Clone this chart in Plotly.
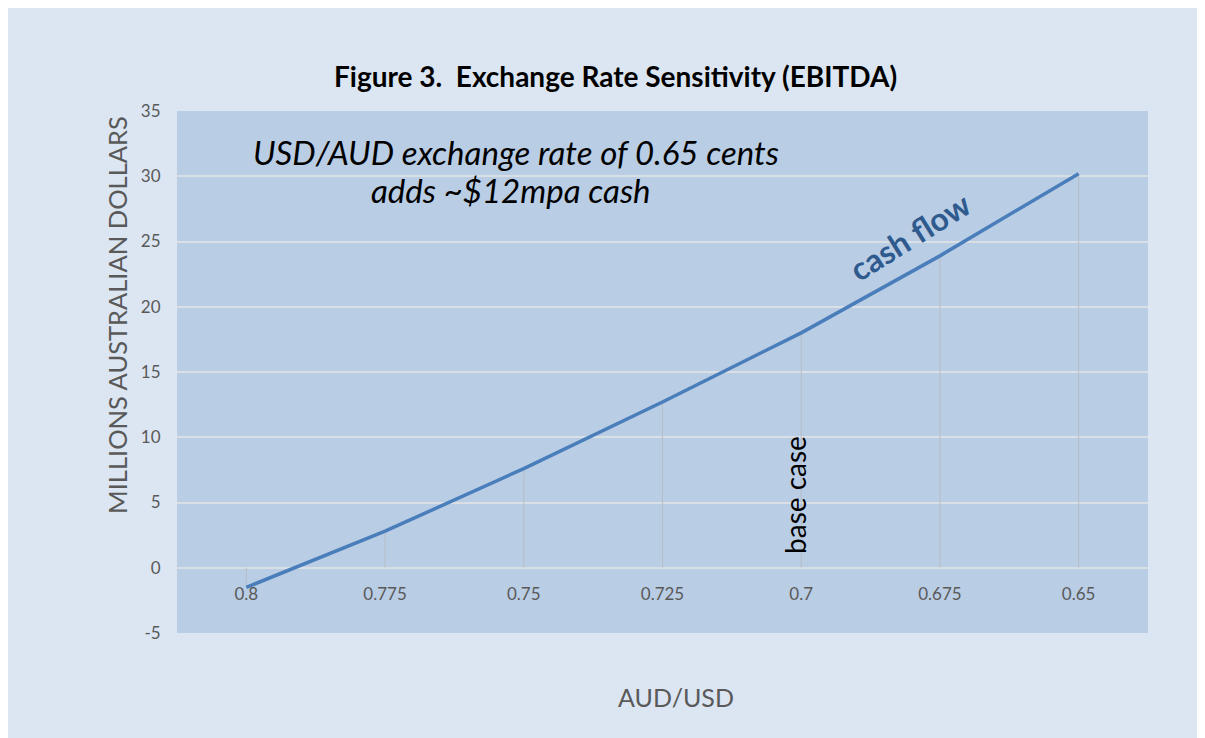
import plotly.graph_objects as go

# ---- data ----
x_labels = ["0.8", "0.775", "0.75", "0.725", "0.7", "0.675", "0.65"]
cash_flow = [-1.5, 2.8, 7.6, 12.7, 18.0, 23.9, 30.2]
y_ticks = [-5, 0, 5, 10, 15, 20, 25, 30, 35]
y_tick_text = [str(v) for v in y_ticks]

title_text = "Figure 3.  Exchange Rate Sensitivity (EBITDA)"
y_title = "MILLIONS AUSTRALIAN DOLLARS"
x_title = "AUD/USD"
note_line1 = "USD/AUD exchange rate of 0.65 cents"
note_line2 = "adds ~$12mpa cash"
series_label = "cash flow"
base_label = "base case"
base_category = "0.7"

# ---- layout geometry (screen pixels; page body adds an 8px offset) ----
OFF = 8
W, H = 1205 - OFF, 738 - OFF
L, R, T, B = 177 - OFF, 1148 - OFF, 111 - OFF, 633 - OFF
pw, ph = R - L, B - T


def px(x):
    return (x - OFF - L) / pw


def py(y):
    return (B - (y - OFF)) / ph


FONT = "Lato"
GREY = "#595959"
LINE = "#4a7ebb"

fig = go.Figure()

# drop lines from each point to zero
dx, dy = [], []
for c, v in zip(x_labels, cash_flow):
    dx += [c, c, None]
    dy += [0, v, None]
fig.add_trace(go.Scatter(x=dx, y=dy, mode="lines",
                         line=dict(color="#b6bec8", width=1),
                         hoverinfo="skip", showlegend=False))

fig.add_trace(go.Scatter(x=x_labels, y=cash_flow, mode="lines",
                         line=dict(color=LINE, width=3.5),
                         name=series_label, showlegend=False))

C = dict(xanchor="center", yanchor="middle", showarrow=False)
ann = []
ann.append(dict(text="<b>" + title_text + "</b>", x=px(615), y=py(76),
                xref="paper", yref="paper",
                font=dict(family=FONT, size=28, color="#000000"), **C))
ann.append(dict(text=y_title, x=px(117), y=py(315), xref="paper", yref="paper",
                textangle=-90,
                font=dict(family=FONT, size=25.5, color=GREY), **C))
ann.append(dict(text=x_title, x=px(676), y=py(697), xref="paper", yref="paper",
                font=dict(family=FONT, size=25, color=GREY), **C))
ann.append(dict(text="<i>" + note_line1 + "</i>", x=px(516), y=py(152),
                xref="paper", yref="paper",
                font=dict(family=FONT, size=33, color="#000000"), **C))
ann.append(dict(text="<i>" + note_line2 + "</i>", x=px(511), y=py(190),
                xref="paper", yref="paper",
                font=dict(family=FONT, size=33, color="#000000"), **C))
ann.append(dict(text="<b>" + series_label + "</b>", x=px(909), y=py(236),
                xref="paper", yref="paper", textangle=-32,
                font=dict(family=FONT, size=32, color="#2f5a8e"), **C))
ann.append(dict(text=base_label, x=x_labels.index(base_category), y=(568 - 495) / 13.05,
                xref="x", yref="y", textangle=-90, xshift=-6,
                font=dict(family=FONT, size=28, color="#000000"), **C))

fig.update_layout(
    width=W, height=H,
    margin=dict(l=L, r=W - R, t=T, b=H - B, pad=0),
    paper_bgcolor="#dce6f2",
    plot_bgcolor="#b9cde5",
    showlegend=False,
    annotations=ann,
    xaxis=dict(type="category", categoryorder="array", categoryarray=x_labels,
               range=[-0.5, len(x_labels) - 0.5], showgrid=False, zeroline=False,
               showline=False, anchor="free", position=py(568),
               ticks="outside", ticklen=11, tickcolor="rgba(0,0,0,0)",
               tickfont=dict(family=FONT, size=17, color=GREY)),
    yaxis=dict(range=[-5, 35], tickvals=y_ticks, ticktext=y_tick_text, showgrid=True,
               gridcolor="#dadfe6", gridwidth=1.5, zeroline=False, showline=False,
               ticks="outside", ticklen=12, tickcolor="rgba(0,0,0,0)",
               tickfont=dict(family=FONT, size=17, color=GREY)),
)

fig.write_html("out.html")
